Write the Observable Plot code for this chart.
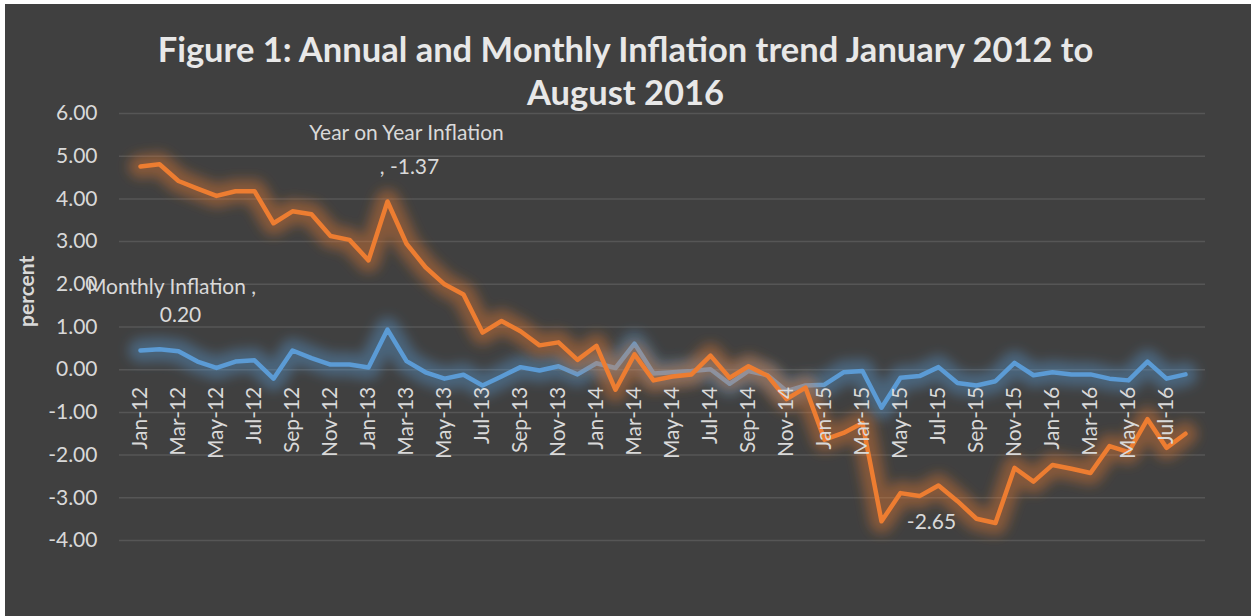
<!DOCTYPE html>
<html>
<head>
<meta charset="utf-8">
<script src="https://cdn.jsdelivr.net/npm/d3@7"></script>
<script src="https://cdn.jsdelivr.net/npm/@observablehq/plot@0.6"></script>
<style>
  html, body { margin: 0; padding: 0; background: #ffffff; }
  #frame { position: absolute; left: 5px; top: 4px; width: 1246px; height: 612px; background: #404040; overflow: hidden; }
  #chart { position: absolute; left: -5px; top: -4px; }
  #title { position: absolute; left: -5px; top: 23px; width: 1251px; text-align: center; font-family: Lato, "Open Sans", sans-serif; font-weight: bold; font-size: 34.5px; line-height: 43px; color: #e8e8e8; z-index: 2; }
  svg text { font-family: Lato, "Open Sans", sans-serif; }
</style>
</head>
<body>
<div id="frame"><div id="title">Figure 1: Annual and Monthly Inflation trend January 2012 to<br>August 2016</div><div id="chart"></div></div>
<script>
const months = [
  "Jan-12","Feb-12","Mar-12","Apr-12","May-12","Jun-12","Jul-12","Aug-12","Sep-12","Oct-12","Nov-12","Dec-12",
  "Jan-13","Feb-13","Mar-13","Apr-13","May-13","Jun-13","Jul-13","Aug-13","Sep-13","Oct-13","Nov-13","Dec-13",
  "Jan-14","Feb-14","Mar-14","Apr-14","May-14","Jun-14","Jul-14","Aug-14","Sep-14","Oct-14","Nov-14","Dec-14",
  "Jan-15","Feb-15","Mar-15","Apr-15","May-15","Jun-15","Jul-15","Aug-15","Sep-15","Oct-15","Nov-15","Dec-15",
  "Jan-16","Feb-16","Mar-16","Apr-16","May-16","Jun-16","Jul-16","Aug-16"
];
const yearOnYear = [
  4.76, 4.81, 4.42, 4.24, 4.07, 4.18, 4.18, 3.43, 3.71, 3.64, 3.13, 3.04,
  2.56, 3.94, 2.95, 2.40, 2.00, 1.76, 0.87, 1.14, 0.90, 0.57, 0.64, 0.23,
  0.56, -0.47, 0.36, -0.25, -0.16, -0.11, 0.33, -0.19, 0.08, -0.14, -0.69, -0.42,
  -1.64, -1.48, -1.25, -3.55, -2.89, -2.96, -2.71, -3.08, -3.49, -3.59, -2.30, -2.62,
  -2.23, -2.32, -2.42, -1.79, -1.93, -1.16, -1.83, -1.50
];
const monthly = [
  0.45, 0.48, 0.43, 0.19, 0.04, 0.19, 0.22, -0.21, 0.45, 0.27, 0.12, 0.12,
  0.05, 0.94, 0.20, -0.06, -0.21, -0.12, -0.37, -0.16, 0.06, -0.02, 0.08, -0.11,
  0.15, 0.04, 0.61, -0.09, -0.06, -0.03, 0.01, -0.33, -0.03, -0.13, -0.50, -0.37,
  -0.35, -0.06, -0.03, -0.89, -0.19, -0.15, 0.06, -0.31, -0.37, -0.27, 0.16, -0.13,
  -0.06, -0.11, -0.11, -0.21, -0.25, 0.19, -0.21, -0.11
];
const tickMonths = months.filter((m, i) => i % 2 === 0);
const yTicks = [-4, -3, -2, -1, 0, 1, 2, 3, 4, 5, 6];
const annotations = [
  {text: "Year on Year Inflation", month: "Feb-13", value: 5.53, shift: 19},
  {text: ", -1.37", month: "Feb-13", value: 4.74, shift: 22},
  {text: "Monthly Inflation ,", month: "May-12", value: 1.93, shift: -45},
  {text: "0.20", month: "Apr-12", value: 1.28, shift: -17},
  {text: "-2.65", month: "Jun-15", value: -3.58, shift: 12}
];

const yoyData = months.map((m, i) => ({month: m, value: yearOnYear[i]}));
const monData = months.map((m, i) => ({month: m, value: monthly[i]}));

const ORANGE = "#ED7D31", BLUE = "#5B9BD5";

const svg = Plot.plot({
  width: 1251,
  height: 616,
  marginLeft: 119,
  marginRight: 46,
  marginTop: 113,
  marginBottom: 76,
  style: {background: "transparent", color: "#d9d9d9", fontSize: "21px", fontFamily: "Lato, 'Open Sans', sans-serif"},
  x: {type: "point", domain: months, padding: 0.5, axis: null},
  y: {domain: [-4, 6], axis: null},
  marks: [
    Plot.ruleY(yTicks, {stroke: "#565656", strokeWidth: 1.5}),
    Plot.axisY({ticks: yTicks, tickSize: 0, tickPadding: 22, tickFormat: d => d.toFixed(2), fill: "#d9d9d9", fontSize: 21, label: null}),
    Plot.text(["percent"], {frameAnchor: "left", dx: -92, rotate: -90, fontWeight: "bold", fontSize: 21, fill: "#d9d9d9"}),
    Plot.line(monData, {x: "month", y: "value", stroke: BLUE, strokeWidth: 24, strokeOpacity: 0.4, strokeLinejoin: "round", strokeLinecap: "round"}),
    Plot.line(monData, {x: "month", y: "value", stroke: BLUE, strokeWidth: 4.5, strokeLinejoin: "round", strokeLinecap: "round"}),
    Plot.line(yoyData, {x: "month", y: "value", stroke: ORANGE, strokeWidth: 24, strokeOpacity: 0.4, strokeLinejoin: "round", strokeLinecap: "round"}),
    Plot.line(yoyData, {x: "month", y: "value", stroke: ORANGE, strokeWidth: 4.5, strokeLinejoin: "round", strokeLinecap: "round"}),
    Plot.text(tickMonths, {x: d => d, y: () => 0, rotate: -90, textAnchor: "end", dy: 17, fontSize: 21, fill: "#d9d9d9"}),
    Plot.text(annotations, {x: "month", y: "value", text: "text", fontSize: 21, fill: "#d9d9d9"})
  ]
});

// shift annotations horizontally by their 'shift' (in px) to sit between categories
const annGroups = svg.querySelectorAll('g[aria-label="text"]');
const annG = annGroups[annGroups.length - 1];
annG.querySelectorAll("text").forEach((t, i) => {
  const tr = t.getAttribute("transform") || "";
  t.setAttribute("transform", tr + ` translate(${annotations[i].shift},0)`);
});

// glow filter
const ns = "http://www.w3.org/2000/svg";
const defs = document.createElementNS(ns, "defs");
defs.innerHTML = '<filter id="glow" x="-10%" y="-30%" width="120%" height="160%"><feGaussianBlur stdDeviation="6"/></filter>';
svg.insertBefore(defs, svg.firstChild);
const lines = svg.querySelectorAll('g[aria-label="line"]');
lines[0].setAttribute("filter", "url(#glow)");
lines[2].setAttribute("filter", "url(#glow)");

document.getElementById("chart").appendChild(svg);
</script>
</body>
</html>
